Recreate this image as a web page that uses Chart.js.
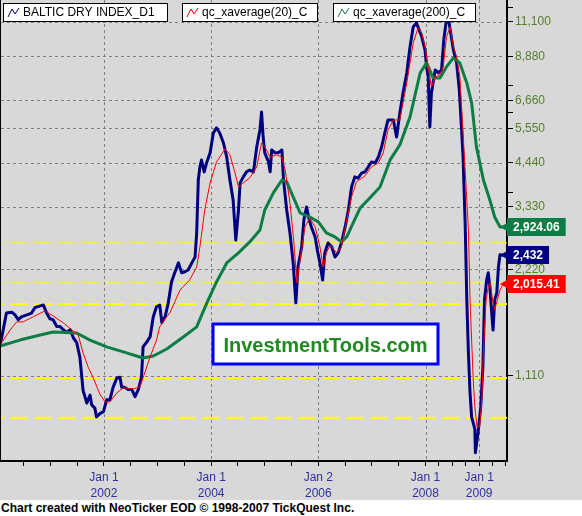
<!DOCTYPE html>
<html>
<head>
<meta charset="utf-8">
<script src="https://cdn.jsdelivr.net/npm/chart.js@4.4.1/dist/chart.umd.min.js"></script>
<style>
  html, body { margin: 0; padding: 0; background: #fff; }
  #wrap { width: 582px; height: 500px; background: #d8d8d8; position: relative; }
  #footer { width: 582px; height: 16px; background: #fff; color: #000; white-space: nowrap;
            font: bold 12px "Liberation Sans", Arial, sans-serif; line-height: 16px; padding-left: 1px; }
</style>
</head>
<body>
<div id="wrap"><canvas id="chart"></canvas></div>
<div id="footer">Chart created with NeoTicker EOD © 1998-2007 TickQuest Inc.</div>
<script>
// Baltic Dry Index, [decimal year, close]
const bdi = [
  [2000.06,1350],[2000.12,1500],[2000.18,1670],[2000.28,1680],[2000.34,1650],[2000.40,1600],[2000.46,1630],
  [2000.56,1650],[2000.65,1670],[2000.71,1730],[2000.81,1750],[2000.87,1760],[2000.93,1670],[2000.99,1610],
  [2001.05,1600],[2001.12,1530],[2001.18,1530],[2001.24,1500],[2001.30,1470],[2001.37,1500],[2001.43,1420],
  [2001.49,1380],[2001.55,1255],[2001.58,1130],[2001.61,1010],[2001.68,930],[2001.74,980],[2001.77,920],
  [2001.83,900],[2001.86,850],[2001.93,870],[2001.99,880],
  [2002.05,950],[2002.11,950],[2002.17,1030],[2002.24,1095],[2002.30,1100],[2002.33,1030],[2002.39,1030],
  [2002.45,1015],[2002.52,1015],[2002.58,970],[2002.64,1015],[2002.70,1100],[2002.73,1340],[2002.80,1385],
  [2002.86,1430],[2002.92,1630],[2002.98,1740],
  [2003.04,1760],[2003.08,1570],[2003.14,1630],[2003.20,1785],[2003.26,2045],[2003.32,2170],[2003.39,2315],
  [2003.45,2170],[2003.51,2185],[2003.57,2210],[2003.64,2315],[2003.70,2405],[2003.73,2815],[2003.76,3970],
  [2003.79,4320],[2003.82,4520],[2003.87,4185],[2003.92,4465],[2003.98,4735],
  [2004.04,5390],[2004.10,5570],[2004.16,5390],[2004.23,5050],[2004.29,4610],[2004.35,3970],[2004.41,3485],
  [2004.46,2685],[2004.51,3265],[2004.54,3895],[2004.60,4050],[2004.66,4185],[2004.72,4235],[2004.79,4185],
  [2004.85,4920],[2004.91,5495],[2004.94,6180],[2004.97,5250],
  [2005.00,4735],[2005.07,4465],[2005.10,4185],[2005.13,4825],[2005.19,4735],[2005.25,4735],[2005.32,4825],
  [2005.35,3970],[2005.41,3265],[2005.47,2815],[2005.53,2315],[2005.58,1785],[2005.62,2255],[2005.69,2570],
  [2005.73,3060],[2005.78,3330],[2005.83,3060],[2005.87,2925],[2005.94,2740],[2005.98,2520],
  [2006.03,2315],[2006.08,2070],[2006.12,2470],[2006.18,2635],[2006.25,2570],[2006.31,2405],[2006.37,2470],
  [2006.43,2635],[2006.50,2925],[2006.56,3265],[2006.62,3795],[2006.68,4050],[2006.74,4020],[2006.81,4155],
  [2006.87,4185],[2006.93,4320],[2006.99,4465],
  [2007.06,4435],[2007.12,4610],[2007.18,4920],[2007.24,5390],[2007.30,5865],[2007.40,5865],[2007.46,5250],
  [2007.52,6140],[2007.58,6995],[2007.65,7965],[2007.71,9435],[2007.77,10745],[2007.83,11030],[2007.88,10545],
  [2007.93,10065],[2007.99,9250],
  [2008.02,8280],[2008.05,7760],[2008.08,5605],[2008.11,6995],[2008.14,7465],[2008.18,8120],[2008.24,7965],
  [2008.30,8120],[2008.34,9875],[2008.39,11245],[2008.44,11030],[2008.49,9875],[2008.52,9250],[2008.58,8500],
  [2008.63,7130],[2008.67,5605],[2008.70,4610],[2008.72,3700],[2008.74,2970],[2008.77,1820],[2008.80,1290],
  [2008.83,995],[2008.86,850],[2008.92,785],[2008.93,673],[2008.98,766],
  [2009.03,907],[2009.07,1177],[2009.10,1820],[2009.14,2070],[2009.17,2170],[2009.20,1980],[2009.23,1705],
  [2009.26,1495],[2009.29,1820],[2009.33,1905],[2009.36,2255],[2009.39,2440],[2009.45,2432]
];

// qc_xaverage(20)
const ma20 = [
  [2000.06,1357],[2000.25,1496],[2000.37,1577],[2000.49,1577],[2000.68,1630],[2000.90,1694],[2001.05,1640],
  [2001.24,1567],[2001.40,1496],[2001.52,1448],[2001.61,1289],[2001.71,1170],[2001.80,1095],[2001.93,981],
  [2002.02,937],[2002.11,937],[2002.24,994],[2002.36,1026],[2002.55,1020],[2002.67,1033],[2002.76,1132],
  [2002.86,1255],[2002.98,1401],[2003.04,1527],[2003.17,1630],[2003.23,1672],[2003.42,1941],[2003.60,2072],
  [2003.73,2254],[2003.79,2568],[2003.88,3265],[2003.98,3895],[2004.10,4464],[2004.26,4858],[2004.35,4672],
  [2004.44,4183],[2004.51,3794],[2004.60,3895],[2004.72,4022],[2004.85,4320],[2004.94,5052],[2005.00,4922],
  [2005.10,4610],[2005.22,4672],[2005.32,4610],[2005.38,4236],[2005.47,3419],[2005.54,2686],[2005.60,2032],
  [2005.66,2360],[2005.75,2925],[2005.84,3100],[2005.94,2925],[2006.03,2568],[2006.09,2254],[2006.15,2470],
  [2006.22,2602],[2006.34,2470],[2006.43,2568],[2006.53,3060],[2006.62,3555],[2006.71,3920],[2006.87,4075],
  [2006.99,4320],[2007.12,4435],[2007.21,4733],[2007.30,5496],[2007.40,5864],[2007.52,5864],[2007.65,7464],
  [2007.77,9683],[2007.86,10673],[2007.93,10330],[2007.99,9433],[2008.05,8281],[2008.11,7270],[2008.18,7760],
  [2008.27,7860],[2008.33,8281],[2008.39,10065],[2008.46,10743],[2008.52,9433],[2008.58,8840],[2008.64,7760],
  [2008.70,5391],[2008.77,3486],[2008.80,2867],[2008.83,1819],[2008.86,1401],[2008.89,1081],[2008.92,907],
  [2008.96,797],[2009.01,797],[2009.05,949],[2009.08,1314],[2009.13,1819],[2009.17,1980],[2009.21,2032],
  [2009.25,1819],[2009.29,1706],[2009.34,1819],[2009.39,1941],[2009.45,2015.41]
];

// qc_xaverage(200)
const ma200 = [
  [2000.06,1348],[2000.43,1401],[2000.81,1448],[2001.05,1477],[2001.49,1467],[2001.74,1401],[2002.05,1340],
  [2002.36,1297],[2002.73,1247],[2002.92,1263],[2003.17,1322],[2003.48,1430],[2003.73,1527],[2003.92,1784],
  [2004.10,2045],[2004.29,2314],[2004.51,2470],[2004.72,2653],[2004.91,2867],[2005.00,3265],[2005.16,3650],
  [2005.32,3970],[2005.41,3920],[2005.53,3555],[2005.66,3204],[2005.84,3120],[2006.00,3022],[2006.15,2813],
  [2006.31,2740],[2006.43,2653],[2006.53,2740],[2006.65,3002],[2006.78,3308],[2006.96,3531],[2007.15,3794],
  [2007.34,4523],[2007.52,4986],[2007.71,5980],[2007.90,7965],[2008.02,8500],[2008.14,7710],[2008.27,7710],
  [2008.39,8281],[2008.52,8781],[2008.64,8500],[2008.77,7464],[2008.86,6553],[2008.95,4922],[2009.08,3970],
  [2009.20,3486],[2009.29,3120],[2009.39,2925],[2009.45,2924.06]
];

// yellow horizontal levels
const levels = [2636, 2032, 1773, 1095, 845];

const yTickValues = [1110, 2220, 3330, 4440, 5550, 6660, 8880, 11100];
const yMinorTicks = [3660, 6150, 7350, 12210];
const xTickYears = [2002, 2004, 2006, 2008, 2009];
const xTickLabels = [['Jan 1', '2002'], ['Jan 1', '2004'], ['Jan 2', '2006'], ['Jan 1', '2008'], ['Jan 1', '2009']];
const xMinorTicks = [2000.5, 2001, 2001.5, 2002.5, 2003, 2003.5, 2004.5, 2005, 2005.5, 2006.5, 2007, 2007.5,
                     2008.25, 2008.5, 2008.75, 2009.25, 2009.5];

const xMin = 2000.06, xMax = 2009.52;
const yMin = 638, yMax = 12800;

const FONT = 'Liberation Sans';
const GREEN = '#0b7d45', NAVY = '#000080', RED = '#ff0000';

const toPoints = rows => rows.map(([x, y]) => ({ x, y }));
const fmt = v => v.toLocaleString('en-US', { minimumFractionDigits: Number.isInteger(v) ? 0 : 2 });

const levelSets = levels.map((v, i) => ({
  label: 'level',
  data: [{ x: xMin, y: v }, { x: xMax, y: v }],
  borderColor: '#ffff00',
  borderWidth: i < 2 ? 1 : 2,
  borderDash: [18, 6],
  borderDashOffset: 14,
  order: 5
}));

// grey dashed grid only at the labelled ticks
function drawDashGrid(chart) {
  const ctx = chart.ctx, a = chart.chartArea;
  const xs = chart.scales.x, ys = chart.scales.y;
  ctx.save();
  ctx.fillStyle = '#808080';
  yTickValues.forEach(v => {
    const py = Math.round(ys.getPixelForValue(v));
    for (let x = a.left + 1; x < a.right - 2; x += 6) ctx.fillRect(x, py, 3, 1);
  });
  xTickYears.forEach(v => {
    const px = Math.round(xs.getPixelForValue(v));
    for (let y = a.top; y < a.bottom - 2; y += 6) ctx.fillRect(px, y, 1, 3);
  });
  ctx.restore();
}

const decor = {
  id: 'decor',
  beforeDatasetsDraw(chart) {
    drawDashGrid(chart);
  },
  afterDraw(chart) {
    const ctx = chart.ctx, area = chart.chartArea, ys = chart.scales.y;
    ctx.save();
    // left edge line
    ctx.fillStyle = '#000';
    ctx.fillRect(0, 0, 1, area.bottom);

    // watermark
    ctx.fillStyle = '#fff';
    ctx.fillRect(213, 324, 225, 40);
    ctx.strokeStyle = '#0000ff';
    ctx.lineWidth = 3;
    ctx.strokeRect(213, 324, 225, 40);
    ctx.fillStyle = '#1d8c1d';
    ctx.font = 'bold 20px "' + FONT + '"';
    ctx.textAlign = 'center';
    ctx.textBaseline = 'alphabetic';
    ctx.fillText('InvestmentTools.com', 325.5, 352);

    // legend boxes
    const items = [
      { text: 'BALTIC DRY INDEX_D1', color: NAVY, x: 3, w: 165 },
      { text: 'qc_xaverage(20)_C', color: RED, x: 182, w: 136 },
      { text: 'qc_xaverage(200)_C', color: GREEN, x: 333, w: 143 }
    ];
    ctx.font = '12px "' + FONT + '"';
    ctx.textAlign = 'left';
    ctx.textBaseline = 'middle';
    items.forEach(it => {
      ctx.fillStyle = '#fff';
      ctx.fillRect(it.x, 3, it.w, 19);
      ctx.strokeStyle = '#000';
      ctx.lineWidth = 1;
      ctx.strokeRect(it.x + 0.5, 3.5, it.w - 1, 18);
      ctx.strokeStyle = it.color;
      ctx.beginPath();
      ctx.moveTo(it.x + 5, 17);
      ctx.lineTo(it.x + 9, 9);
      ctx.lineTo(it.x + 12, 14);
      ctx.lineTo(it.x + 16, 8);
      ctx.stroke();
      ctx.fillStyle = '#000';
      ctx.fillText(it.text, it.x + 20, 13);
    });

    // last value tags
    const tags = [
      { rows: ma200, color: GREEN },
      { rows: bdi, color: NAVY },
      { rows: ma20, color: RED }
    ];
    ctx.font = 'bold 12px "' + FONT + '"';
    tags.forEach(t => {
      const v = t.rows[t.rows.length - 1][1];
      const py = Math.round(ys.getPixelForValue(v));
      const txt = fmt(v);
      const x0 = area.right;
      const w = ctx.measureText(txt).width + 12;
      ctx.fillStyle = t.color;
      ctx.fillRect(x0, py - 9, w, 18);
      ctx.beginPath();
      ctx.moveTo(x0 - 7, py);
      ctx.lineTo(x0, py - 4);
      ctx.lineTo(x0, py + 4);
      ctx.closePath();
      ctx.fill();
      ctx.fillStyle = '#fff';
      ctx.fillText(txt, x0 + 6, py + 1);
    });
    ctx.restore();
  }
};

Chart.defaults.font.family = FONT;

new Chart(document.getElementById('chart'), {
  type: 'line',
  data: {
    datasets: [
      { label: 'qc_xaverage(20)_C', data: toPoints(ma20), borderColor: RED, borderWidth: 1, order: 0 },
      { label: 'qc_xaverage(200)_C', data: toPoints(ma200), borderColor: GREEN, borderWidth: 3, order: 1 },
      { label: 'BALTIC DRY INDEX_D1', data: toPoints(bdi), borderColor: NAVY, borderWidth: 3, order: 2 },
      ...levelSets
    ]
  },
  options: {
    responsive: true,
    maintainAspectRatio: false,
    devicePixelRatio: 1,
    animation: false,
    layout: { padding: 0 },
    elements: {
      point: { radius: 0 },
      line: { tension: 0, fill: false, borderJoinStyle: 'round' }
    },
    plugins: { legend: { display: false }, tooltip: { enabled: false } },
    scales: {
      x: {
        type: 'linear',
        min: xMin,
        max: xMax,
        afterBuildTicks: s => {
          s.ticks = [...xMinorTicks, ...xTickYears].sort((a, b) => a - b).map(v => ({ value: v }));
        },
        afterFit: s => { s.height = 39; s.paddingLeft = 0; s.paddingRight = 0; },
        ticks: {
          autoSkip: false,
          maxRotation: 0,
          padding: 4,
          color: '#3030a0',
          font: { size: 12, lineHeight: 1.3 },
          callback: v => {
            const i = xTickYears.indexOf(v);
            return i >= 0 ? xTickLabels[i] : '';
          }
        },
        grid: { drawOnChartArea: false, color: '#000', tickColor: '#000', tickLength: 5, lineWidth: 1 },
        border: { color: '#000', width: 2 }
      },
      y: {
        type: 'logarithmic',
        position: 'right',
        min: yMin,
        max: yMax,
        afterBuildTicks: s => {
          s.ticks = [...yTickValues, ...yMinorTicks].sort((a, b) => a - b).map(v => ({ value: v }));
        },
        afterFit: s => { s.width = 75; s.paddingTop = 0; s.paddingBottom = 0; },
        ticks: {
          autoSkip: false,
          padding: 2,
          color: '#55802a',
          font: { size: 12 },
          callback: v => yTickValues.includes(v) ? v.toLocaleString('en-US') : ''
        },
        grid: { drawOnChartArea: false, color: '#000', tickColor: '#000', tickLength: 6, lineWidth: 1 },
        border: { color: '#000', width: 2 }
      }
    }
  },
  plugins: [decor]
});
</script>
</body>
</html>
